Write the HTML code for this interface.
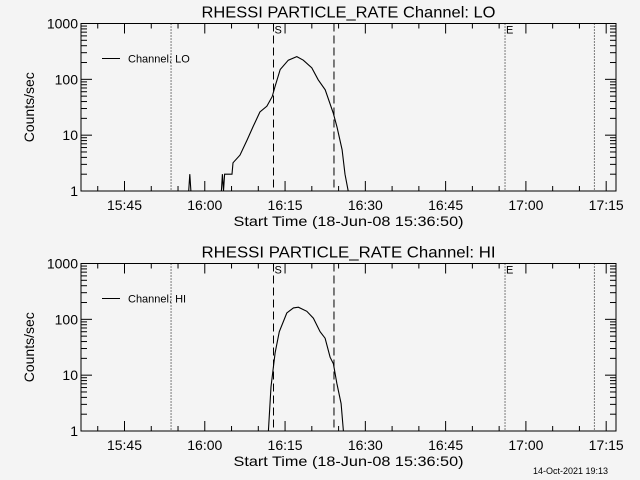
<!DOCTYPE html>
<html><head><meta charset="utf-8"><style>
html,body{margin:0;padding:0;background:#f4f4f4}
svg{display:block;font-family:"Liberation Sans",sans-serif}
</style></head><body>
<svg id="chart" width="640" height="480" viewBox="0 0 640 480">
<rect width="640" height="480" fill="#f4f4f4"/>
<text x="608" y="474" font-size="9" text-anchor="end" fill="#000">14-Oct-2021 19:13</text>
</svg>
<script>
// minutes after 15:00
const xTickMinutes = [45, 60, 75, 90, 105, 120, 135];
const xTickLabels = ["15:45", "16:00", "16:15", "16:30", "16:45", "17:00", "17:15"];
const yTickValues = [1, 10, 100, 1000];
const yTickLabels = ["1", "10", "100", "1000"];
const dottedLines = [53.7, 116.1, 132.8];
const dashedLines = [72.84, 84.14];
const loTimes = [57.0, 57.2, 57.4, 63.1, 63.3, 63.5, 63.7, 64.16, 65.09, 65.28, 66.59, 67.9, 69.0, 70.3, 71.6, 72.6, 73.1, 74.1, 75.6, 77.2, 78.4, 80.0, 81.2, 82.5, 84.0, 84.7, 85.65, 86.2, 86.8];
const loValues = [1, 2, 1, 1, 2, 1, 2, 2, 2, 3.2, 4.4, 8.2, 14, 26, 33, 49, 73, 150, 220, 255, 220, 160, 98, 65, 25, 14, 5.5, 2, 1];
const hiTimes = [71.88, 72.38, 73.13, 73.93, 75.32, 76.55, 77.49, 79.06, 80.29, 81.54, 82.48, 83.41, 84.03, 84.66, 85.47, 85.9];
const hiValues = [1, 6.2, 25, 60, 130, 160, 165, 139, 105, 60, 46, 21, 16, 7.2, 3.1, 1];

const svg = document.getElementById('chart');
const NS = 'http://www.w3.org/2000/svg';
const L = 81, R = 616;
function xs(t){ return 124.5 + (t - 45) * 5.352; }
function mk(tag, attrs, parent){
  const e = document.createElementNS(NS, tag);
  for (const k in attrs) e.setAttribute(k, attrs[k]);
  (parent || svg).appendChild(e);
  return e;
}
function panel(top, bottom, name, times, values){
  const g = mk('g', {});
  
  
  const ys = v => bottom - Math.log10(Math.max(v, 1)) / 3 * (bottom - top);
  const cx = (L + R) / 2;
  const title = mk('text', {x: cx, y: top - 6, 'font-size': 16, 'text-anchor': 'middle', textLength: 294, lengthAdjust: 'spacingAndGlyphs'}, g);
  title.textContent = 'RHESSI PARTICLE_RATE Channel: ' + name;
  
  
  dottedLines.forEach(t => {
    const l = mk('line', {x1: xs(t), x2: xs(t), y1: top, y2: bottom, stroke: '#000', 'stroke-dasharray': '1,2'}, g);
    
    
  });
  dashedLines.forEach(t => {
    const l = mk('line', {x1: xs(t), x2: xs(t), y1: top, y2: bottom, stroke: '#000', 'stroke-dasharray': '8,4'}, g);
    
    
  });
  const s = mk('text', {x: xs(dashedLines[0]) + 1, y: top + 10, 'font-size': 11}, g);
  s.textContent = 'S';
  
  
  const e = mk('text', {x: xs(dottedLines[1]) + 1, y: top + 10, 'font-size': 11}, g);
  e.textContent = 'E';
  
  
  const box = mk('rect', {x: L, y: top, width: R - L, height: bottom - top, fill: 'none', stroke: '#000'}, g);
  
  
  for (let m = 40; m <= 135; m += 5){
    const x = xs(m);
    if (x < L || x > R) continue;
    const major = m % 15 === 0;
    const len = major ? 10 : 5;
    mk('line', {x1: x, x2: x, y1: bottom, y2: bottom - len, stroke: '#000'}, g);
    mk('line', {x1: x, x2: x, y1: top, y2: top + len, stroke: '#000'}, g);
  }
  xTickMinutes.forEach((m, i) => {
    const t = mk('text', {x: xs(m), y: bottom + 19, 'font-size': 14, 'text-anchor': 'middle'}, g);
    t.textContent = xTickLabels[i];
    
    
  });
  const xt = mk('text', {x: cx, y: bottom + 35, 'font-size': 14, 'text-anchor': 'middle', textLength: 230, lengthAdjust: 'spacingAndGlyphs'}, g);
  xt.textContent = 'Start Time (18-Jun-08 15:36:50)';
  
  
  for (let d = 0; d < 3; d++){
    for (let k = 2; k <= 9; k++){
      const y = ys(Math.pow(10, d) * k);
      mk('line', {x1: L, x2: L + 6, y1: y, y2: y, stroke: '#000'}, g);
      mk('line', {x1: R, x2: R - 6, y1: y, y2: y, stroke: '#000'}, g);
    }
  }
  yTickValues.forEach((v, i) => {
    const y = ys(v);
    mk('line', {x1: L, x2: L + 11, y1: y, y2: y, stroke: '#000'}, g);
    mk('line', {x1: R, x2: R - 11, y1: y, y2: y, stroke: '#000'}, g);
    const t = mk('text', {x: L - 3, y: y + 5, 'font-size': 14, 'text-anchor': 'end'}, g);
    t.textContent = yTickLabels[i];
    
    
  });
  const yc = (top + bottom) / 2;
  const yt = mk('text', {x: 34, y: yc, 'font-size': 14, 'text-anchor': 'middle', transform: 'rotate(-90 34 ' + yc + ')'}, g);
  yt.textContent = 'Counts/sec';
  
  
  const ly = top + 35;
  const ll = mk('line', {x1: 102, x2: 120, y1: ly, y2: ly, stroke: '#000'}, g);
  
  
  const lt = mk('text', {x: 128, y: ly + 4, 'font-size': 11}, g);
  lt.textContent = 'Channel: ' + name;
  
  
  const pts = times.map((t, i) => xs(t).toFixed(1) + ',' + ys(values[i]).toFixed(1)).join(' ');
  const pl = mk('polyline', {points: pts, fill: 'none', stroke: '#000', 'stroke-width': 1.1}, g);
  
  
}
panel(23.5, 191, 'LO', loTimes, loValues);
panel(263.5, 431, 'HI', hiTimes, hiValues);
</script>
</body></html>
